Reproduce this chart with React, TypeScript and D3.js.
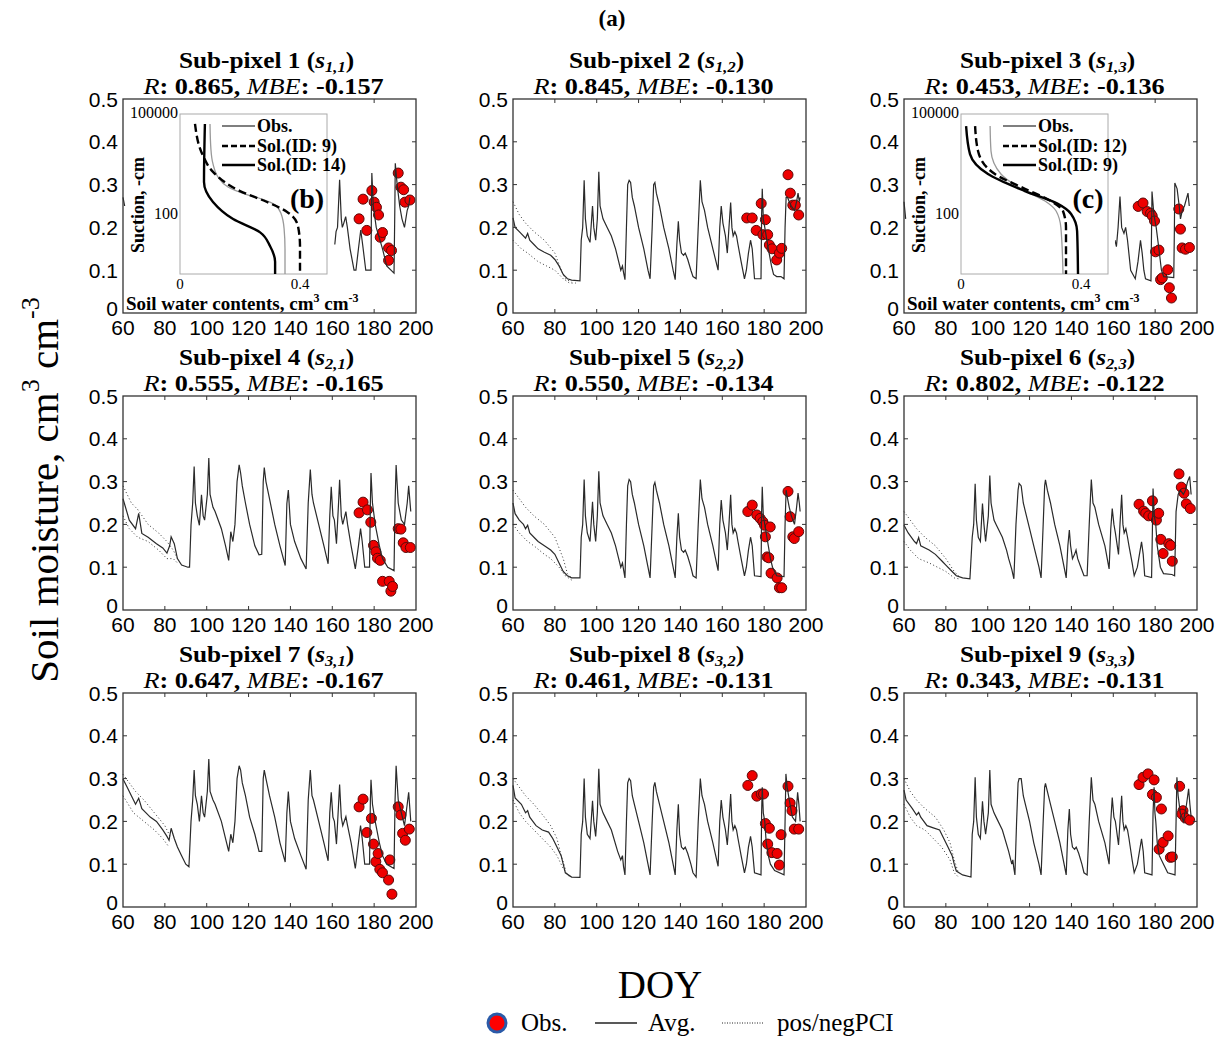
import React from "react";
import * as d3 from "d3";

type P = [number, number];

// ---------- tick labels ----------
const xTickValues = [60, 80, 100, 120, 140, 160, 180, 200];
const yTickValues = [0, 0.1, 0.2, 0.3, 0.4, 0.5];
const yTickLabels = ["0", "0.1", "0.2", "0.3", "0.4", "0.5"];

// ---------- panel titles ----------
const panelNames = ["Sub-pixel 1", "Sub-pixel 2", "Sub-pixel 3", "Sub-pixel 4", "Sub-pixel 5", "Sub-pixel 6", "Sub-pixel 7", "Sub-pixel 8", "Sub-pixel 9"];
const panelSubs = ["1,1", "1,2", "1,3", "2,1", "2,2", "2,3", "3,1", "3,2", "3,3"];
const rValues = ["0.865", "0.845", "0.453", "0.555", "0.550", "0.802", "0.647", "0.461", "0.343"];
const mbeValues = ["-0.157", "-0.130", "-0.136", "-0.165", "-0.134", "-0.122", "-0.167", "-0.131", "-0.131"];

// ---------- Avg. series (DOY, soil moisture) ----------
const avg1: P[] = [[60, 0.27], [60.8, 0.25], [NaN, NaN],
  [161.2, 0.16], [161.8, 0.19], [162.5, 0.2], [163.5, 0.311], [164.3, 0.22], [164.8, 0.2], [165.5, 0.21], [166.4, 0.225], [167.2, 0.2], [168.5, 0.15], [170.4, 0.1], [171.3, 0.1], [172.5, 0.15], [173.6, 0.194], [174.5, 0.16], [176, 0.1], [178.5, 0.1], [178.7, 0.25], [178.9, 0.327], [179.6, 0.25], [181, 0.2], [184, 0.15], [186, 0.11], [189.5, 0.093], [189.9, 0.25], [190.1, 0.35], [191, 0.3], [192.2, 0.25], [193.3, 0.22], [194.5, 0.2], [195.8, 0.24], [196.5, 0.25], [197.1, 0.27]];

const avg2: P[] = [[60, 0.222], [61, 0.2], [63, 0.19], [66, 0.175], [67, 0.186], [68, 0.17], [70, 0.16], [72, 0.15], [75, 0.142], [78, 0.135], [80, 0.125], [82, 0.11], [84, 0.09], [86, 0.08], [88, 0.077], [92, 0.075],
  [92.6, 0.17], [93.3, 0.2], [94, 0.31], [94.6, 0.22], [95.5, 0.18], [96.8, 0.165], [98, 0.25], [98.6, 0.2], [99.5, 0.17], [100.3, 0.22], [101, 0.33], [101.6, 0.25], [103, 0.22], [105, 0.2], [107, 0.18], [109, 0.15], [110.5, 0.12], [111.5, 0.1], [112.3, 0.11], [112.8, 0.095], [113.5, 0.078],
  [114.2, 0.2], [114.8, 0.3], [115.5, 0.31], [116.2, 0.305], [117, 0.27], [118, 0.25], [120, 0.2], [122.5, 0.15], [124.5, 0.1], [125.5, 0.08],
  [126.5, 0.2], [127.2, 0.3], [127.8, 0.305], [128.5, 0.28], [130, 0.25], [132, 0.2], [134.5, 0.15], [136.5, 0.1], [137.5, 0.078],
  [138.3, 0.16], [139, 0.214], [139.6, 0.17], [140.5, 0.14], [141.5, 0.135], [142.3, 0.14], [143.5, 0.125], [145, 0.1], [146, 0.085], [147.5, 0.08],
  [148.5, 0.2], [149.5, 0.31], [150.3, 0.26], [151.5, 0.24], [153, 0.2], [155.5, 0.15], [158, 0.1],
  [158.8, 0.2], [159.5, 0.25], [160.3, 0.21], [161.5, 0.18], [162.4, 0.14], [163.2, 0.2], [164, 0.258], [164.6, 0.2], [165.2, 0.18], [166, 0.19], [166.8, 0.18], [167.5, 0.16], [169, 0.12], [170.6, 0.08],
  [171.5, 0.1], [172.5, 0.14], [173.5, 0.17], [174.3, 0.15], [175.4, 0.08], [178.5, 0.08],
  [178.8, 0.23], [179.1, 0.29], [179.6, 0.22], [180.3, 0.2], [182, 0.15], [183.5, 0.11], [184.5, 0.09], [186, 0.085], [188, 0.085], [189.5, 0.08],
  [190, 0.2], [190.5, 0.27], [191.2, 0.27], [192, 0.26], [193, 0.25], [194.5, 0.24], [195.5, 0.26], [196.2, 0.28], [196.8, 0.26], [197.2, 0.27]];

const avg3: P[] = [[60, 0.26], [60.8, 0.22], [NaN, NaN],
  [160.8, 0.17], [161.5, 0.155], [162.3, 0.2], [163.2, 0.272], [164, 0.2], [165.1, 0.186], [165.9, 0.2], [166.8, 0.17], [168.3, 0.1], [170.5, 0.08], [171.8, 0.12], [173, 0.17], [173.8, 0.14], [174.6, 0.1], [175.4, 0.08], [178, 0.075], [178.3, 0.2], [178.5, 0.284], [179.4, 0.23], [180.5, 0.2], [181.8, 0.15], [183, 0.1], [184.1, 0.085], [188.9, 0.083], [189.2, 0.2], [189.4, 0.304], [190.5, 0.29], [191.5, 0.25], [192.1, 0.22], [193, 0.24], [194, 0.25], [195.7, 0.28], [196.3, 0.25]];

const avg4: P[] = [[60, 0.26], [63, 0.21], [66, 0.19], [67.5, 0.226], [69, 0.179], [72, 0.17], [76, 0.155], [79, 0.145], [81, 0.133], [82.3, 0.15], [83, 0.171], [84.5, 0.155], [86, 0.12], [88, 0.105], [91, 0.1], [91.8, 0.1],
  [92.5, 0.198], [93.3, 0.25], [94, 0.335], [94.6, 0.25], [95.5, 0.22], [96.5, 0.198], [97.5, 0.269], [98.3, 0.22], [99, 0.21], [100.3, 0.27], [101, 0.355], [101.6, 0.27], [103, 0.24], [104, 0.23], [107, 0.19], [109, 0.15], [110.5, 0.116], [111.5, 0.183], [112.5, 0.16], [113.5, 0.2],
  [114.5, 0.3], [115.5, 0.339], [116.2, 0.32], [117, 0.29], [118.5, 0.25], [120.5, 0.2], [123, 0.15], [125, 0.129], [126.3, 0.13],
  [127, 0.3], [127.5, 0.333], [128.3, 0.3], [130, 0.26], [132.5, 0.2], [135, 0.15], [137.5, 0.104],
  [138.3, 0.249], [139, 0.28], [140, 0.2], [142, 0.16], [145, 0.12], [147.5, 0.096],
  [148.5, 0.25], [149.5, 0.328], [150.3, 0.27], [151, 0.25], [153.5, 0.2], [156, 0.15], [158, 0.108],
  [158.8, 0.22], [159.5, 0.288], [160.3, 0.22], [161, 0.21], [162, 0.155], [163, 0.25], [163.5, 0.304], [164.3, 0.22], [165, 0.2], [166.5, 0.23], [167.3, 0.2], [169, 0.15], [171, 0.096],
  [172.5, 0.15], [173.5, 0.19], [174.3, 0.16], [175.5, 0.1], [177.8, 0.1],
  [178.2, 0.25], [178.5, 0.32], [179.2, 0.25], [180.5, 0.2], [182.5, 0.15], [184, 0.12], [186.5, 0.1], [189.5, 0.092],
  [190, 0.25], [190.5, 0.339], [191.5, 0.25], [193, 0.21], [194.5, 0.2], [195.8, 0.25], [196.5, 0.29], [197.5, 0.23]];

const avg5: P[] = [[60, 0.25], [61, 0.225], [63, 0.21], [65, 0.2], [66, 0.19], [67, 0.198], [68, 0.18], [70, 0.17], [72, 0.16], [75, 0.15], [78, 0.14], [80, 0.13], [82, 0.11], [84, 0.09], [86, 0.08], [88, 0.075], [92, 0.075],
  [92.6, 0.17], [93.3, 0.2], [94, 0.305], [94.6, 0.22], [95.5, 0.18], [96.8, 0.16], [98, 0.253], [98.6, 0.2], [99.5, 0.16], [100.3, 0.22], [101, 0.324], [101.6, 0.25], [103, 0.22], [105, 0.2], [107, 0.18], [109, 0.15], [110.5, 0.12], [111.5, 0.1], [112.3, 0.11], [112.8, 0.095], [113.5, 0.075],
  [114.2, 0.2], [114.8, 0.29], [115.5, 0.305], [116.2, 0.3], [117, 0.27], [118, 0.25], [120, 0.2], [122.5, 0.15], [124.5, 0.1], [125.5, 0.075],
  [126.5, 0.2], [127.2, 0.29], [127.8, 0.298], [128.5, 0.28], [130, 0.25], [132, 0.2], [134.5, 0.15], [136.5, 0.1], [137.5, 0.075],
  [138.3, 0.17], [139, 0.226], [139.6, 0.17], [140.5, 0.14], [141.5, 0.135], [142.3, 0.14], [143.5, 0.125], [145, 0.1], [146, 0.08], [147.5, 0.075],
  [148.5, 0.2], [149.5, 0.305], [150.3, 0.26], [151.5, 0.24], [153, 0.2], [155.5, 0.15], [158, 0.092],
  [158.8, 0.2], [159.5, 0.257], [160.3, 0.21], [161.5, 0.18], [162.4, 0.14], [163.2, 0.2], [164, 0.269], [164.6, 0.2], [165.2, 0.18], [166, 0.19], [166.8, 0.18], [167.5, 0.16], [169, 0.12], [170.6, 0.08],
  [171.5, 0.1], [172.5, 0.14], [173.5, 0.17], [174.3, 0.15], [175.4, 0.08], [178.5, 0.078],
  [178.8, 0.23], [179.1, 0.288], [179.6, 0.22], [180.3, 0.2], [182, 0.15], [183, 0.12], [184, 0.1], [186, 0.08], [189.5, 0.078],
  [190, 0.2], [190.5, 0.28], [191.2, 0.26], [192, 0.24], [193, 0.22], [194.5, 0.2], [195.5, 0.24], [196.2, 0.273], [196.8, 0.25], [197.2, 0.23]];

const avg6: P[] = [[60, 0.198], [62, 0.18], [65, 0.16], [66, 0.155], [67, 0.169], [68, 0.15], [72, 0.14], [75, 0.13], [78, 0.115], [80, 0.105], [83, 0.09], [85, 0.08], [88, 0.075], [91.5, 0.073],
  [92.6, 0.17], [93.3, 0.2], [94, 0.295], [94.6, 0.21], [95.5, 0.17], [96.5, 0.16], [97.5, 0.249], [98.2, 0.2], [99, 0.16], [100.3, 0.22], [101, 0.314], [101.6, 0.25], [103, 0.21], [104, 0.2], [107, 0.17], [109, 0.14], [110, 0.12], [111.5, 0.095], [112.5, 0.073],
  [113.5, 0.2], [114.5, 0.28], [115, 0.296], [116, 0.29], [117, 0.25], [118, 0.23], [120, 0.19], [122, 0.15], [124.5, 0.1], [125.5, 0.075],
  [126.5, 0.2], [127.2, 0.29], [127.6, 0.304], [128.5, 0.28], [130, 0.25], [132, 0.2], [134.5, 0.15], [136.5, 0.1], [137.5, 0.075],
  [138.3, 0.15], [139, 0.187], [139.6, 0.15], [140.5, 0.12], [141.5, 0.13], [142.2, 0.14], [143, 0.12], [144.5, 0.1], [146, 0.08], [147.5, 0.08],
  [148.5, 0.2], [149.5, 0.305], [150.3, 0.25], [151.2, 0.24], [153, 0.2], [156, 0.15], [158, 0.096],
  [158.8, 0.19], [159.5, 0.237], [160.3, 0.2], [161, 0.18], [162.5, 0.13], [163.2, 0.2], [164, 0.269], [164.6, 0.2], [165.2, 0.18], [166, 0.19], [166.8, 0.17], [167.5, 0.15], [169, 0.11], [170, 0.08],
  [171.5, 0.1], [172.5, 0.13], [173.5, 0.159], [174.3, 0.13], [175, 0.08], [178.3, 0.076],
  [178.8, 0.22], [179, 0.284], [179.6, 0.22], [180.3, 0.2], [181, 0.15], [182.5, 0.1], [184, 0.085], [188, 0.083], [189.3, 0.08],
  [190, 0.23], [191, 0.27], [192, 0.28], [193.5, 0.27], [194.5, 0.28], [195.5, 0.3], [196.5, 0.312], [197.2, 0.27]];

const avg7: P[] = [[60, 0.299], [62, 0.28], [64, 0.26], [66, 0.24], [67.5, 0.254], [69, 0.23], [71, 0.22], [73, 0.21], [76, 0.2], [79, 0.18], [81, 0.165], [82, 0.156], [83, 0.184], [84.5, 0.16], [86, 0.14], [88, 0.12], [90, 0.1], [91.5, 0.094],
  [92.5, 0.2], [93.3, 0.25], [94, 0.32], [94.6, 0.26], [95.5, 0.24], [96.5, 0.2], [97.5, 0.26], [98.3, 0.22], [99, 0.21], [100.3, 0.27], [101, 0.346], [101.6, 0.27], [103, 0.25], [104, 0.24], [107, 0.2], [109, 0.16], [110.5, 0.13], [111.5, 0.17], [112.5, 0.15], [113.5, 0.2],
  [114.5, 0.3], [115.5, 0.33], [116.2, 0.32], [117, 0.29], [118.5, 0.26], [120.5, 0.21], [123, 0.17], [125, 0.13], [126.3, 0.13],
  [127, 0.3], [127.5, 0.32], [128.3, 0.3], [130, 0.26], [132.5, 0.21], [135, 0.15], [137.5, 0.105],
  [138.3, 0.22], [139, 0.27], [140, 0.2], [142, 0.16], [145, 0.12], [147.5, 0.088],
  [148.5, 0.25], [149.5, 0.32], [150.3, 0.26], [151, 0.25], [153.5, 0.2], [156, 0.15], [158, 0.108],
  [158.8, 0.22], [159.5, 0.268], [160.3, 0.21], [161, 0.2], [162, 0.147], [163, 0.24], [163.5, 0.286], [164.3, 0.21], [165, 0.19], [166.5, 0.211], [167.3, 0.19], [169, 0.15], [171, 0.09],
  [172.5, 0.15], [173.5, 0.19], [174.3, 0.16], [175.5, 0.1], [177.8, 0.1],
  [178.2, 0.25], [178.5, 0.297], [179.2, 0.24], [180.5, 0.2], [182.5, 0.15], [184, 0.12], [186, 0.1], [189.5, 0.09],
  [190, 0.25], [190.5, 0.33], [191.5, 0.25], [193, 0.22], [194.5, 0.19], [195.8, 0.24], [196.5, 0.268], [197.5, 0.2]];

const avg8: P[] = [[60, 0.284], [61, 0.255], [64, 0.24], [66, 0.22], [67, 0.225], [68, 0.21], [71, 0.19], [74, 0.18], [77, 0.175], [79, 0.16], [81, 0.14], [83, 0.12], [84, 0.1], [85, 0.08], [88, 0.07], [92, 0.069],
  [92.6, 0.17], [93.3, 0.2], [94, 0.3], [94.6, 0.21], [95.5, 0.17], [96.8, 0.16], [98, 0.248], [98.6, 0.2], [99.5, 0.165], [100.3, 0.22], [101, 0.323], [101.6, 0.24], [103, 0.22], [104, 0.21], [107, 0.18], [110, 0.13], [111.5, 0.11], [112.3, 0.12], [112.8, 0.095], [113.5, 0.075],
  [114.2, 0.2], [114.8, 0.29], [115.5, 0.3], [116.2, 0.295], [117, 0.26], [118, 0.24], [120, 0.2], [122.5, 0.15], [124.5, 0.1], [125.5, 0.075],
  [126.5, 0.2], [127.2, 0.28], [127.8, 0.291], [128.5, 0.27], [130, 0.24], [132, 0.2], [134.5, 0.15], [136.5, 0.1], [137.5, 0.075],
  [138.3, 0.18], [139, 0.24], [139.6, 0.17], [140.5, 0.14], [141.5, 0.135], [142.3, 0.14], [143.5, 0.125], [145, 0.1], [146, 0.08], [147.5, 0.07],
  [148.5, 0.2], [149.5, 0.3], [150.3, 0.26], [151.5, 0.24], [153, 0.2], [155.5, 0.15], [158, 0.095],
  [158.8, 0.2], [159.5, 0.25], [160.3, 0.21], [161.5, 0.18], [162.4, 0.145], [163.2, 0.2], [164, 0.264], [164.6, 0.2], [165.2, 0.18], [166, 0.19], [166.8, 0.18], [167.5, 0.16], [169, 0.12], [170.6, 0.08],
  [171.5, 0.1], [172.5, 0.14], [173.5, 0.165], [174.3, 0.14], [175.4, 0.08], [178.5, 0.075],
  [178.8, 0.22], [179.1, 0.28], [179.6, 0.22], [180.3, 0.2], [181, 0.15], [182, 0.12], [183, 0.1], [185, 0.085], [189.5, 0.075],
  [190, 0.2], [190.4, 0.311], [191, 0.28], [192, 0.25], [193.5, 0.21], [195, 0.2], [196, 0.268], [196.6, 0.24], [197.2, 0.2]];

const avg9: P[] = [[60, 0.273], [61, 0.25], [64, 0.23], [66, 0.215], [67, 0.221], [68, 0.21], [71, 0.19], [74, 0.185], [77, 0.18], [79, 0.16], [81, 0.14], [83, 0.12], [84, 0.1], [85, 0.084], [88, 0.075], [92, 0.07],
  [92.6, 0.17], [93.3, 0.2], [94, 0.303], [94.6, 0.21], [95.5, 0.17], [96.5, 0.16], [97.5, 0.247], [98.2, 0.2], [99, 0.17], [100.3, 0.22], [101, 0.32], [101.6, 0.24], [103, 0.22], [104, 0.21], [107, 0.18], [110, 0.13], [111.5, 0.1], [112, 0.11], [112.5, 0.09], [113, 0.075],
  [113.8, 0.2], [114.5, 0.29], [115, 0.3], [116, 0.3], [117, 0.26], [118, 0.24], [120, 0.2], [122, 0.15], [124.5, 0.1], [125.5, 0.075],
  [126.5, 0.2], [127.2, 0.28], [127.6, 0.289], [128.5, 0.27], [130, 0.24], [132, 0.2], [134.5, 0.15], [136.5, 0.1], [137.5, 0.075],
  [138.3, 0.18], [139, 0.229], [139.6, 0.17], [140.5, 0.14], [141.5, 0.135], [142.3, 0.14], [143.5, 0.125], [145, 0.1], [146, 0.08], [147.5, 0.075],
  [148.5, 0.2], [149.5, 0.303], [150.3, 0.25], [151.2, 0.24], [153, 0.2], [156, 0.15], [158, 0.1],
  [158.8, 0.2], [159.5, 0.256], [160.3, 0.21], [161, 0.2], [162.5, 0.145], [163.2, 0.2], [164, 0.26], [164.6, 0.2], [165.2, 0.18], [166, 0.19], [166.8, 0.18], [167.5, 0.16], [169, 0.11], [170, 0.08],
  [171.5, 0.1], [172.5, 0.13], [173.5, 0.159], [174.3, 0.13], [175, 0.08], [178.5, 0.075],
  [179, 0.22], [179.5, 0.28], [179.9, 0.22], [180.3, 0.2], [181, 0.15], [182, 0.12], [184, 0.1], [186, 0.08], [189.5, 0.075],
  [190, 0.2], [190.4, 0.303], [191, 0.26], [192, 0.22], [193.5, 0.2], [195, 0.24], [196, 0.276], [196.6, 0.24], [197.2, 0.21]];

// ---------- pos/neg PCI (early part where they separate from Avg.) ----------
const pos2: P[] = [[60, 0.26], [63, 0.23], [66, 0.21], [70, 0.19], [75, 0.17], [80, 0.14], [83, 0.1], [85, 0.08], [88, 0.072]];
const neg2: P[] = [[60, 0.17], [64, 0.15], [67, 0.14], [72, 0.12], [76, 0.11], [80, 0.1], [84, 0.08], [87, 0.07], [90, 0.07]];
const pos4: P[] = [[60, 0.29], [64, 0.25], [67, 0.235], [72, 0.2], [77, 0.18], [81, 0.16], [84, 0.14], [86, 0.12]];
const neg4: P[] = [[60, 0.22], [63, 0.19], [67, 0.17], [72, 0.16], [77, 0.14], [81, 0.12], [84, 0.12], [86, 0.11]];
const pos5: P[] = [[60, 0.28], [63, 0.26], [66, 0.24], [70, 0.22], [75, 0.2], [80, 0.17], [84, 0.12], [86, 0.085], [88, 0.075]];
const neg5: P[] = [[60, 0.2], [63, 0.18], [67, 0.16], [70, 0.15], [75, 0.13], [78, 0.12], [82, 0.1], [85, 0.08], [88, 0.07]];
const pos6: P[] = [[60, 0.23], [63, 0.21], [66, 0.19], [70, 0.17], [75, 0.15], [80, 0.12], [84, 0.09], [87, 0.075]];
const neg6: P[] = [[60, 0.16], [63, 0.14], [67, 0.12], [72, 0.11], [76, 0.1], [80, 0.09], [84, 0.075], [87, 0.072]];
const pos7: P[] = [[60, 0.31], [66, 0.27], [70, 0.25], [75, 0.22], [80, 0.19], [83, 0.16]];
const neg7: P[] = [[60, 0.26], [65, 0.22], [70, 0.2], [75, 0.18], [79, 0.16], [82, 0.14]];
const pos8: P[] = [[60, 0.3], [63, 0.28], [66, 0.26], [70, 0.24], [75, 0.21], [78, 0.19], [81, 0.16], [83, 0.12], [85, 0.09]];
const neg8: P[] = [[60, 0.25], [63, 0.22], [66, 0.2], [70, 0.18], [74, 0.16], [78, 0.14], [81, 0.12], [84, 0.09], [87, 0.07]];
const pos9: P[] = [[60, 0.3], [63, 0.27], [66, 0.25], [70, 0.23], [75, 0.21], [79, 0.18], [82, 0.15], [84, 0.11], [86, 0.08]];
const neg9: P[] = [[60, 0.24], [63, 0.21], [66, 0.19], [70, 0.18], [74, 0.16], [78, 0.14], [82, 0.11], [84, 0.08], [86, 0.07]];

// ---------- Obs. ----------
const obs1: P[] = [[172.8, 0.22], [174.7, 0.266], [176.5, 0.193], [178.9, 0.286], [180, 0.259], [181.1, 0.247], [182.1, 0.229], [182.9, 0.177], [184, 0.188], [186.9, 0.152], [186.9, 0.123], [188.3, 0.146], [191.5, 0.327], [192.8, 0.294], [194.1, 0.288], [194.7, 0.259], [197.1, 0.264]];
const obs2: P[] = [[171.7, 0.222], [174.3, 0.222], [176.2, 0.193], [178.6, 0.256], [179.4, 0.183], [180.6, 0.218], [181.7, 0.183], [182.5, 0.159], [183.8, 0.15], [186, 0.124], [187.3, 0.14], [188.4, 0.151], [191.4, 0.323], [192.5, 0.28], [193.7, 0.252], [194.9, 0.252], [196.5, 0.229]];
const obs3: P[] = [[171.9, 0.249], [174.2, 0.257], [176.2, 0.237], [177.8, 0.233], [178.6, 0.227], [179.7, 0.215], [180.2, 0.143], [181.8, 0.147], [182.6, 0.078], [183.4, 0.082], [186, 0.101], [186.8, 0.059], [187.8, 0.035], [191.3, 0.243], [192.1, 0.196], [192.9, 0.152], [194.5, 0.149], [196.4, 0.153]];
const obs4: P[] = [[172.8, 0.227], [174.7, 0.252], [176.8, 0.234], [178.4, 0.205], [179.7, 0.151], [180.8, 0.136], [181.6, 0.121], [182.9, 0.116], [184, 0.067], [187.2, 0.067], [188, 0.044], [188.8, 0.055], [191.5, 0.19], [192.8, 0.189], [193.9, 0.157], [195.2, 0.146], [197.3, 0.146]];
const obs5: P[] = [[172.2, 0.23], [174.3, 0.245], [176.5, 0.222], [178.1, 0.214], [179.4, 0.206], [180.2, 0.198], [180.6, 0.171], [182.9, 0.194], [181.4, 0.124], [182.2, 0.122], [183.3, 0.086], [186.2, 0.075], [187.3, 0.052], [188.4, 0.052], [191.4, 0.277], [192.4, 0.218], [193.7, 0.171], [194.4, 0.167], [196.5, 0.183]];
const obs6: P[] = [[172.3, 0.247], [174.5, 0.231], [175.5, 0.226], [176.9, 0.22], [178.7, 0.255], [179, 0.219], [180.6, 0.21], [181.7, 0.226], [182.7, 0.165], [183.8, 0.132], [186.5, 0.155], [187.4, 0.151], [188.2, 0.114], [191.4, 0.318], [192.5, 0.287], [193.8, 0.273], [194.9, 0.248], [196.8, 0.237]];
const obs7: P[] = [[172.8, 0.234], [174.7, 0.252], [176.5, 0.174], [178.7, 0.207], [179.7, 0.147], [180.8, 0.106], [181.9, 0.125], [182.7, 0.088], [184, 0.08], [186.9, 0.063], [187.5, 0.11], [188.5, 0.03], [191.5, 0.234], [192.8, 0.215], [193.6, 0.172], [194.9, 0.156], [196.8, 0.182]];
const obs8: P[] = [[172.2, 0.284], [174.3, 0.307], [176.5, 0.259], [178.6, 0.264], [179.7, 0.264], [180.6, 0.195], [182.5, 0.184], [181.7, 0.147], [183.7, 0.127], [186.2, 0.125], [187.3, 0.098], [188.1, 0.169], [191.4, 0.282], [192.4, 0.243], [193.3, 0.225], [194.4, 0.182], [196.5, 0.182]];
const obs9: P[] = [[172.3, 0.286], [174.2, 0.303], [176.6, 0.311], [179.5, 0.297], [178.7, 0.263], [180.6, 0.256], [183, 0.229], [181.9, 0.135], [183.8, 0.151], [186.2, 0.166], [187.3, 0.116], [188.2, 0.117], [191.7, 0.282], [193.3, 0.225], [192.8, 0.217], [194.4, 0.208], [196.5, 0.203]];

const avgSeries = [avg1, avg2, avg3, avg4, avg5, avg6, avg7, avg8, avg9];
const posSeries: P[][] = [[], pos2, [], pos4, pos5, pos6, pos7, pos8, pos9];
const negSeries: P[][] = [[], neg2, [], neg4, neg5, neg6, neg7, neg8, neg9];
const obsSeries = [obs1, obs2, obs3, obs4, obs5, obs6, obs7, obs8, obs9];

// ---------- insets: (soil water content, suction in cm) ----------
const insetObsB: P[] = [[0.1, 49000], [0.103, 8100], [0.11, 2750], [0.127, 1070], [0.16, 525], [0.217, 316], [0.273, 219], [0.317, 145], [0.337, 76], [0.347, 26], [0.35, 6], [0.35, 1]];
const insetSolDashB: P[] = [[0.05, 49000], [0.077, 4900], [0.11, 1550], [0.2, 390], [0.29, 178], [0.357, 87], [0.393, 32], [0.4, 7.5], [0.4, 1]];
const insetSolSolidB: P[] = [[0.083, 49000], [0.08, 750], [0.11, 178], [0.177, 52], [0.267, 20], [0.3, 7.5], [0.317, 2.4], [0.317, 1]];
const insetObsC: P[] = [[0.097, 42000], [0.1, 6900], [0.133, 1330], [0.2, 460], [0.28, 190], [0.317, 93], [0.333, 28], [0.34, 1]];
const insetSolDashC: P[] = [[0.047, 42000], [0.057, 6900], [0.113, 1330], [0.213, 460], [0.3, 190], [0.34, 93], [0.35, 28], [0.35, 1]];
const insetSolSolidC: P[] = [[0.017, 42000], [0.03, 5600], [0.09, 1330], [0.213, 390], [0.323, 155], [0.367, 75], [0.387, 22], [0.39, 1]];
const insetLegendB = ["Obs.", "Sol.(ID: 9)", "Sol.(ID: 14)"];
const insetLegendC = ["Obs.", "Sol.(ID: 12)", "Sol.(ID: 9)"];

const SERIF = "'Liberation Serif', 'Times New Roman', serif";
const SANS = "'Liberation Sans', Arial, Helvetica, sans-serif";

const colLeft = [123, 513, 904];
const rowTop = [99, 396, 693];
const PW = 293;
const PH = 214;

function Inset({ left, top, tag, obs, dash, solid, legend, x }: any) {
  const bx = left + 57, bw = 147, by = top + 15, bh = 160;
  const ix = d3.scaleLinear().domain([0, 0.49]).range([bx, bx + bw]);
  const iy = d3.scaleLog().domain([1, 1e5]).range([by + bh, by]);
  const cl = d3.line<P>().x(d => ix(d[0])).y(d => iy(d[1])).curve(d3.curveMonotoneY);
  const wRight = x(160.8);
  const ly = [top + 27, top + 47, top + 66];
  return (
    <g>
      <rect x={left + 3} y={top + 1} width={wRight - left - 3} height={PH - 2} fill="#fff" />
      <rect x={bx} y={by} width={bw} height={bh} fill="none" stroke="#aaa" strokeWidth={1} />
      <path d={cl(obs) || ""} fill="none" stroke="#999" strokeWidth={1.3} />
      <path d={cl(dash) || ""} fill="none" stroke="#000" strokeWidth={2.4} strokeDasharray="8,4" />
      <path d={cl(solid) || ""} fill="none" stroke="#000" strokeWidth={2.4} />
      <text x={bx - 2} y={by - 2} textAnchor="end" dominantBaseline="central" fontFamily={SERIF} fontSize={16}>100000</text>
      <text x={bx - 2} y={iy(100) + 3} textAnchor="end" dominantBaseline="central" fontFamily={SERIF} fontSize={16}>100</text>
      <text x={ix(0)} y={by + bh + 10} textAnchor="middle" dominantBaseline="central" fontFamily={SERIF} fontSize={15}>0</text>
      <text x={ix(0.4)} y={by + bh + 10} textAnchor="middle" dominantBaseline="central" fontFamily={SERIF} fontSize={15}>0.4</text>
      <text transform={`translate(${left + 15},${top + 106}) rotate(-90)`} textAnchor="middle" dominantBaseline="central" fontFamily={SERIF} fontWeight="bold" fontSize={18}>Suction, -cm</text>
      <text x={left + 3} y={top + 211} fontFamily={SERIF} fontWeight="bold" fontSize={19}>
        Soil water contents, cm<tspan fontSize={12} dy={-8}>3</tspan><tspan dy={8}> cm</tspan><tspan fontSize={12} dy={-8}>-3</tspan>
      </text>
      <text x={left + 184} y={top + 99} textAnchor="middle" dominantBaseline="central" fontFamily={SERIF} fontWeight="bold" fontSize={28}>{tag}</text>
      <line x1={left + 99} x2={left + 132} y1={ly[0]} y2={ly[0]} stroke="#000" strokeWidth={1.2} />
      <line x1={left + 99} x2={left + 132} y1={ly[1]} y2={ly[1]} stroke="#000" strokeWidth={2.4} strokeDasharray="6,3" />
      <line x1={left + 99} x2={left + 132} y1={ly[2]} y2={ly[2]} stroke="#000" strokeWidth={2.4} />
      {legend.map((t: string, k: number) => (
        <text key={k} x={left + 134} y={ly[k]} dominantBaseline="central" fontFamily={SERIF} fontWeight="bold" fontSize={18}>{t}</text>
      ))}
    </g>
  );
}

function Panel({ i }: { i: number }) {
  const left = colLeft[i % 3];
  const top = rowTop[Math.floor(i / 3)];
  const x = d3.scaleLinear().domain([60, 200]).range([left, left + PW]);
  const y = d3.scaleLinear().domain([0, 0.5]).range([top + PH, top]);
  const line = d3.line<P>().defined(d => !isNaN(d[1])).x(d => x(d[0])).y(d => y(d[1]));
  const cx = left + PW / 2;
  const tl = 4;
  const hidden = i === 0 || i === 2;
  return (
    <g>
      <text transform={`translate(${cx - 3},${top - 31}) scale(1.1,1)`} textAnchor="middle" fontFamily={SERIF} fontWeight="bold" fontSize={23}>
        {panelNames[i]} (<tspan fontStyle="italic">s</tspan><tspan fontStyle="italic" fontSize={15} dy={4}>{panelSubs[i]}</tspan><tspan dy={-4}>)</tspan>
      </text>
      <text transform={`translate(${cx - 6},${top - 5}) scale(1.14,1)`} textAnchor="middle" fontFamily={SERIF} fontWeight="bold" fontSize={23}>
        <tspan fontStyle="italic" fontWeight="normal">R</tspan>: {rValues[i]}, <tspan fontStyle="italic" fontWeight="normal">MBE</tspan>: {mbeValues[i]}
      </text>
      {obsSeries[i].map((d, k) => (
        <circle key={k} cx={x(d[0])} cy={y(d[1])} r={5} fill="#ee0000" stroke="#5a0a0a" strokeWidth={1} />
      ))}
      {posSeries[i].length > 0 && <path d={line(posSeries[i]) || ""} fill="none" stroke="#333" strokeWidth={1} strokeDasharray="1,2.5" />}
      {negSeries[i].length > 0 && <path d={line(negSeries[i]) || ""} fill="none" stroke="#333" strokeWidth={1} strokeDasharray="1,2.5" />}
      <path d={line(avgSeries[i]) || ""} fill="none" stroke="#2a2a2a" strokeWidth={1.2} />
      {i === 0 && <Inset left={left} top={top} tag="(b)" obs={insetObsB} dash={insetSolDashB} solid={insetSolSolidB} legend={insetLegendB} x={x} />}
      {i === 2 && <Inset left={left} top={top} tag="(c)" obs={insetObsC} dash={insetSolDashC} solid={insetSolSolidC} legend={insetLegendC} x={x} />}
      {xTickValues.map(v => (
        <g key={"x" + v}>
          {v > 60 && v < 200 && (!hidden || v > 160) && <line x1={x(v)} x2={x(v)} y1={top + PH} y2={top + PH - tl} stroke="#333" />}
          {v > 60 && v < 200 && (!hidden || v > 160) && <line x1={x(v)} x2={x(v)} y1={top} y2={top + tl} stroke="#333" />}
          <text x={x(v)} y={top + PH + 22} textAnchor="middle" fontFamily={SANS} fontSize={21}>{v}</text>
        </g>
      ))}
      {yTickValues.map((v, k) => (
        <g key={"y" + v}>
          {v > 0 && v < 0.5 && !hidden && <line x1={left} x2={left + tl} y1={y(v)} y2={y(v)} stroke="#333" />}
          {v > 0 && v < 0.5 && <line x1={left + PW} x2={left + PW - tl} y1={y(v)} y2={y(v)} stroke="#333" />}
          <text x={left - 5} y={v === 0 ? y(v) - 5 : y(v)} textAnchor="end" dominantBaseline="central" fontFamily={SANS} fontSize={21}>{yTickLabels[k]}</text>
        </g>
      ))}
      <rect x={left} y={top} width={PW} height={PH} fill="none" stroke="#333" strokeWidth={1.3} />
    </g>
  );
}

export default function App() {
  return (
    <div style={{ position: "absolute", left: 0, top: 0, width: 1224, height: 1039, background: "#fff" }}>
      <svg width={1224} height={1039} viewBox="0 0 1224 1039" style={{ display: "block" }}>
        <rect x={0} y={0} width={1224} height={1039} fill="#fff" />
        <text x={612} y={18} textAnchor="middle" dominantBaseline="central" fontFamily={SERIF} fontWeight="bold" fontSize={23}>(a)</text>
        {d3.range(9).map(i => <Panel key={i} i={i} />)}
        <text transform="translate(44,490) rotate(-90)" textAnchor="middle" dominantBaseline="central" fontFamily={SERIF} fontSize={41}>
          Soil moisture, cm<tspan fontSize={26} dy={-14}>3</tspan><tspan dy={14}> cm</tspan><tspan fontSize={26} dy={-14}>-3</tspan>
        </text>
        <text x={660} y={998} textAnchor="middle" fontFamily={SERIF} fontSize={39}>DOY</text>
        <circle cx={497} cy={1023} r={9} fill="#ff0000" stroke="#2a5aa8" strokeWidth={3} />
        <text x={521} y={1031} fontFamily={SERIF} fontSize={25}>Obs.</text>
        <line x1={595} x2={637} y1={1023} y2={1023} stroke="#222" strokeWidth={1.5} />
        <text x={648} y={1031} fontFamily={SERIF} fontSize={25}>Avg.</text>
        <line x1={722} x2={763} y1={1023} y2={1023} stroke="#222" strokeWidth={1} strokeDasharray="1,1.5" />
        <text x={777} y={1031} fontFamily={SERIF} fontSize={25}>pos/negPCI</text>
      </svg>
    </div>
  );
}
